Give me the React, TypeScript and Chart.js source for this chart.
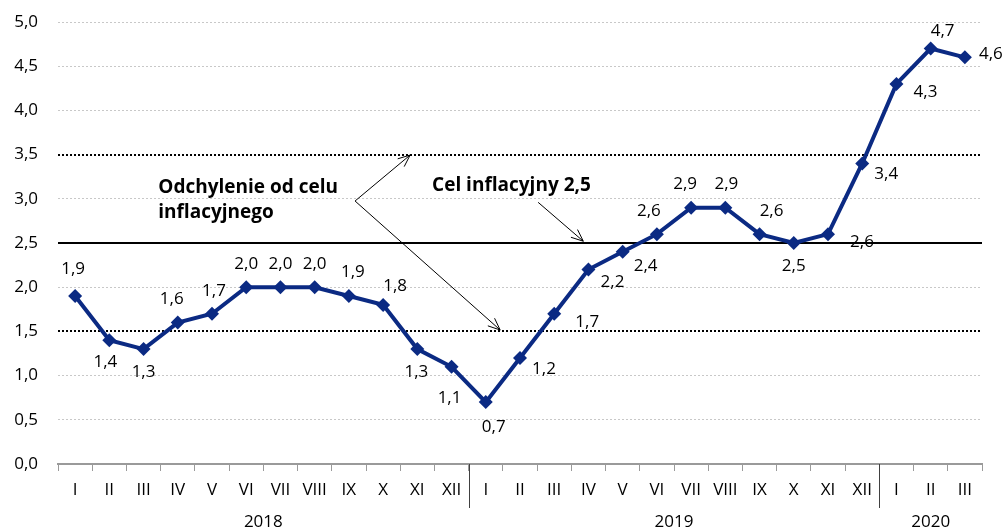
import React, { useEffect, useRef } from "react";
import { Chart, registerables } from "chart.js";

Chart.register(...registerables);

const monthLabels = [
  "I", "II", "III", "IV", "V", "VI", "VII", "VIII", "IX", "X", "XI", "XII",
  "I", "II", "III", "IV", "V", "VI", "VII", "VIII", "IX", "X", "XI", "XII",
  "I", "II", "III",
];
const years = ["2018", "2019", "2020"];
const yearMonthCounts = [12, 12, 3];
const inflation = [
  1.9, 1.4, 1.3, 1.6, 1.7, 2.0, 2.0, 2.0, 1.9, 1.8, 1.3, 1.1,
  0.7, 1.2, 1.7, 2.2, 2.4, 2.6, 2.9, 2.9, 2.6, 2.5, 2.6, 3.4,
  4.3, 4.7, 4.6,
];
const target = 2.5;
const band = [1.5, 3.5];

// label offsets (style): [dx, dy] relative to point
const labelOffsets: [number, number][] = [
  [-2, -27], [-4, 22], [0, 23], [-6, -23], [2, -23], [0, -23], [0, -23], [0, -23], [4, -24], [12, -19], [-1, 23], [-2, 31],
  [8, 25], [24, 11], [33, 8], [24, 13], [23, 14], [-8, -23], [-6, -23], [1, -23], [12, -23], [0, 23], [34, 8], [24, 11],
  [29, 8], [12, -17], [26, -3],
];

const FONT = "'Open Sans', 'Noto Sans', sans-serif";
const LINE_COLOR = "#0B2A83";

const fmt = (v: number) => v.toFixed(1).replace(".", ",");

function drawArrow(ctx: CanvasRenderingContext2D, x1: number, y1: number, x2: number, y2: number) {
  ctx.beginPath();
  ctx.moveTo(x1, y1);
  ctx.lineTo(x2, y2);
  const a = Math.atan2(y2 - y1, x2 - x1);
  const len = 13;
  const sp = 0.4;
  ctx.moveTo(x2 - len * Math.cos(a - sp), y2 - len * Math.sin(a - sp));
  ctx.lineTo(x2, y2);
  ctx.lineTo(x2 - len * Math.cos(a + sp), y2 - len * Math.sin(a + sp));
  ctx.stroke();
}

const customPlugin = {
  id: "custom",
  beforeDatasetsDraw(chart: any) {
    const { ctx, scales, chartArea } = chart;
    const y = scales.y;
    ctx.save();
    ctx.strokeStyle = "#000";
    ctx.lineWidth = 2;
    ctx.setLineDash([2, 2]);
    band.forEach((b) => {
      const py = Math.round(y.getPixelForValue(b));
      ctx.beginPath();
      ctx.moveTo(chartArea.left, py);
      ctx.lineTo(chartArea.right, py);
      ctx.stroke();
    });
    ctx.setLineDash([]);
    const ty = Math.round(y.getPixelForValue(target));
    ctx.beginPath();
    ctx.moveTo(chartArea.left, ty);
    ctx.lineTo(chartArea.right, ty);
    ctx.stroke();

    const x = scales.x;
    const X = (i: number) => x.getPixelForValue(i);
    const Y = (v: number) => y.getPixelForValue(v);
    ctx.fillStyle = "#000";
    ctx.font = `bold 19px ${FONT}`;
    ctx.textAlign = "left";
    ctx.textBaseline = "middle";
    ctx.fillText("Odchylenie od celu", X(2.43), Y(3.13));
    ctx.fillText("inflacyjnego", X(2.43), Y(2.84));
    ctx.fillText("Cel inflacyjny 2,5", X(10.43), Y(3.145));
    ctx.strokeStyle = "#000";
    ctx.lineWidth = 1;
    drawArrow(ctx, X(8.18), Y(2.975), X(9.79), Y(3.495));
    drawArrow(ctx, X(8.18), Y(2.975), X(12.42), Y(1.516));
    drawArrow(ctx, X(13.53), Y(2.96), X(14.85), Y(2.52));
    ctx.restore();
  },
  afterDraw(chart: any) {
    const { ctx, scales, chartArea } = chart;
    const x = scales.x;
    const y = scales.y;
    ctx.save();
    ctx.fillStyle = "#000";
    ctx.font = `17px ${FONT}`;
    ctx.textAlign = "center";
    ctx.textBaseline = "middle";
    inflation.forEach((v, i) => {
      const px = x.getPixelForValue(i);
      const py = y.getPixelForValue(v);
      const [dx, dy] = labelOffsets[i];
      ctx.fillText(fmt(v), px + dx, py + dy);
    });
    const half = (x.getPixelForValue(1) - x.getPixelForValue(0)) / 2;
    let start = 0;
    ctx.strokeStyle = "#404040";
    ctx.lineWidth = 1;
    ctx.font = `17px ${FONT}`;
    years.forEach((yr, k) => {
      const n = yearMonthCounts[k];
      const end = start + n - 1;
      const cx = (x.getPixelForValue(start) + x.getPixelForValue(end)) / 2;
      ctx.fillText(yr, cx, chartArea.bottom + 58);
      if (k < years.length - 1) {
        const sx = Math.round(x.getPixelForValue(end) + half) + 0.5;
        ctx.beginPath();
        ctx.moveTo(sx, chartArea.bottom);
        ctx.lineTo(sx, chartArea.bottom + 44);
        ctx.stroke();
      }
      start += n;
    });
    ctx.restore();
  },
};

export default function App() {
  const ref = useRef<HTMLCanvasElement>(null);
  useEffect(() => {
    if (!ref.current) return;
    const chart = new Chart(ref.current, {
      type: "line",
      data: {
        labels: monthLabels,
        datasets: [
          {
            data: inflation,
            borderColor: LINE_COLOR,
            backgroundColor: LINE_COLOR,
            borderWidth: 4,
            pointStyle: "rectRot",
            pointRadius: 7,
            pointBorderWidth: 0,
            pointBackgroundColor: LINE_COLOR,
            tension: 0,
          },
        ],
      },
      options: {
        animation: false,
        responsive: false,
        maintainAspectRatio: false,
        layout: { padding: { top: 22, right: 24, left: 0, bottom: 0 } },
        plugins: { legend: { display: false }, tooltip: { enabled: false } },
        scales: {
          x: {
            offset: true,
            grid: {
              offset: true,
              drawOnChartArea: false,
              drawTicks: true,
              tickLength: 7,
              color: "#9a9a9a",
            },
            border: { display: true, color: "#9a9a9a", width: 2 },
            ticks: {
              color: "#000",
              font: { family: FONT, size: 17 },
              padding: 9,
              autoSkip: false,
              maxRotation: 0,
            },
            afterFit: (s: any) => {
              s.height = 67;
              s.paddingLeft = 0;
              s.paddingRight = 0;
            },
          },
          y: {
            min: 0,
            max: 5,
            ticks: {
              stepSize: 0.5,
              color: "#000",
              font: { family: FONT, size: 17 },
              padding: 20,
              callback: (v: any) => fmt(Number(v)),
            },
            grid: {
              drawTicks: false,
              color: (c: any) => (c.tick && c.tick.value === 0 ? "rgba(0,0,0,0)" : "#c8c8c8"),
              lineWidth: 1,
            },
            border: { display: false, dash: [2, 2] },
            afterFit: (s: any) => {
              s.width = 58;
              s.paddingTop = 0;
              s.paddingBottom = 0;
            },
          },
        },
      },
      plugins: [customPlugin],
    });
    return () => chart.destroy();
  }, []);
  return (
    <div style={{ position: "fixed", left: 0, top: 0, width: 1006, height: 531, background: "#fff" }}>
      <canvas ref={ref} width={1006} height={531} style={{ width: 1006, height: 531 }} />
    </div>
  );
}
